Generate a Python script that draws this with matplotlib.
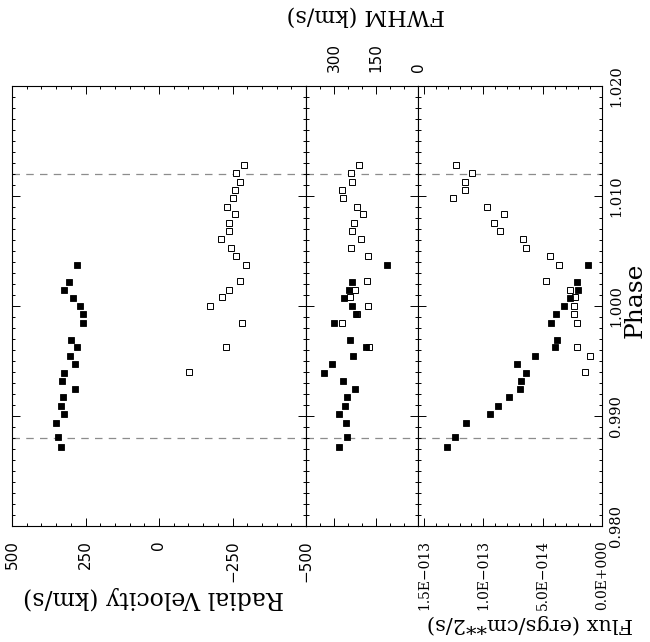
import numpy as np
import matplotlib.pyplot as plt
from matplotlib.ticker import MultipleLocator

plt.rcParams["font.family"] = ["DejaVu Serif"]

nan = np.nan

# filled squares
phase_filled = [1.0037, 1.0022, 1.00145, 1.00075, 0.99997, 0.99923, 0.99843,
                0.99691, 0.99625, 0.99545, 0.99473, 0.99394, 0.99321, 0.99245,
                0.99175, 0.99094, 0.99015, 0.98934, 0.98812, 0.98721]
vel_filled = [280, 306, 322, 291, 269, 260, 260, 298, 278, 303,
              286, 323, 330, 286, 325, 334, 324, 350, 345, 334]
fwhm_filled = [111, 236, 248, 264, 234, 223, 299, 244, 185, 233,
               306, 336, 268, 225, 252, 260, 283, 256, 255, 283]
flux_filled = np.array([1.22, 2.11, 1.98, 2.72, 3.17, 3.89, 4.33, 3.83, 3.96, 5.61,
                        7.17, 6.39, 6.86, 6.94, 7.86, 8.75, 9.44, 11.44, 12.36, 13.03]) * 1e-14

# open squares
phase_open = [1.01282, 1.01205, 1.01130, 1.01055, 1.00986, 1.00903, 1.00835,
              1.00755, 1.00679, 1.00606, 1.00523, 1.00455, 1.00373, 1.00223,
              1.00141, 1.00079, 0.99997, 0.99925, 0.99845, 0.99627, 0.99545,
              0.99398]
vel_open = [-290, -262, -276, -258, -252, -230, -260, -239, -237, -212, -246,
            -261, -297, -276, -239, -215, -175, nan, -283, -229, nan, -103]
fwhm_open = [212, 240, 237, 271, 267, 219, 195, 230, 235, 205, 239,
             178, nan, 182, 225, 243, 180, 218, 273, 175, nan, nan]
flux_open = np.array([12.31, 10.94, 11.56, 11.58, 12.53, 9.69, 8.22, 9.06, 8.56,
                      6.69, 6.39, 4.40, 3.65, 4.73, 2.71, 2.25, 2.38, 2.33, 2.11,
                      2.11, 1.00, 1.42]) * 1e-14

contact_phases = [0.988, 1.012]

phase_ticks = [0.98, 0.99, 1.00, 1.01, 1.02]
phase_tick_labels = ["0.980", "0.990", "1.000", "1.010", "1.020"]
vel_ticks = [500, 250, 0, -250, -500]
vel_tick_labels = ["500", "250", "0", "\u2212250", "\u2212500"]
fwhm_ticks = [300, 150, 0]
fwhm_tick_labels = ["300", "150", "0"]
flux_ticks = [1.5e-13, 1.0e-13, 5.0e-14, 0.0]
flux_tick_labels = ["1.5E\u2212013", "1.0E\u2212013", "5.0E\u2212014", "0.0E+000"]

W, H = 650, 642
fig = plt.figure(figsize=(W / 100, H / 100), dpi=100)

x0, x1, x2, x3 = 12, 306, 418, 602
ytop, ybot = 86, 526
bottom = (H - ybot) / H
height = (ybot - ytop) / H

ax_v = fig.add_axes([x0 / W, bottom, (x1 - x0) / W, height])
ax_w = fig.add_axes([x1 / W, bottom, (x2 - x1) / W, height])
ax_f = fig.add_axes([x2 / W, bottom, (x3 - x2) / W, height])


def style_axis(ax):
    ax.set_ylim(0.98, 1.02)
    ax.yaxis.set_major_locator(MultipleLocator(0.01))
    ax.yaxis.set_minor_locator(MultipleLocator(0.001))
    ax.tick_params(which="both", direction="in", top=True, bottom=True,
                   left=True, right=True, labelbottom=False, labeltop=False,
                   labelleft=False, labelright=False, width=0.7, color="black")
    ax.tick_params(which="major", length=5.5)
    ax.tick_params(which="minor", length=2.5)
    for s in ax.spines.values():
        s.set_linewidth(0.8)
    for p in contact_phases:
        ax.axhline(p, color="0.55", lw=0.9, ls=(0, (6, 5)), zorder=1)


for ax in (ax_v, ax_w, ax_f):
    style_axis(ax)

filled_kw = dict(ls="none", marker="s", ms=5.0, mfc="black", mec="black", mew=0.6, zorder=3)
open_kw = dict(ls="none", marker="s", ms=5.0, mfc="white", mec="black", mew=0.7, zorder=2)

# radial velocity
ax_v.plot(vel_open, phase_open, **open_kw)
ax_v.plot(vel_filled, phase_filled, **filled_kw)
ax_v.set_xlim(500, -500)
ax_v.set_xticks(vel_ticks, labels=vel_tick_labels)
ax_v.xaxis.set_minor_locator(MultipleLocator(50))
ax_v.tick_params(axis="x", which="major", labelbottom=True, labelrotation=90,
                 pad=10, labelsize=11)
for lab in ax_v.get_xticklabels():
    lab.set_fontfamily("DejaVu Sans")

# FWHM
ax_w.plot(fwhm_open, phase_open, **open_kw)
ax_w.plot(fwhm_filled, phase_filled, **filled_kw)
ax_w.set_xlim(400, 0)
ax_w.set_xticks(fwhm_ticks, labels=fwhm_tick_labels)
ax_w.xaxis.set_minor_locator(MultipleLocator(50))
ax_w.tick_params(axis="x", which="major", labeltop=True, labelbottom=False,
                 labelrotation=90, pad=10, labelsize=11)
for lab in ax_w.get_xticklabels():
    lab.set_fontfamily("DejaVu Sans")

# flux
ax_f.plot(flux_open, phase_open, **open_kw)
ax_f.plot(flux_filled, phase_filled, **filled_kw)
ax_f.set_xlim(1.55e-13, 0)
ax_f.set_xticks(flux_ticks, labels=flux_tick_labels)
ax_f.xaxis.set_minor_locator(MultipleLocator(1e-14))
ax_f.tick_params(axis="x", which="major", labelbottom=True, labelrotation=90,
                 pad=10, labelsize=10)
ax_f.set_yticks(phase_ticks, labels=phase_tick_labels)
ax_f.yaxis.set_minor_locator(MultipleLocator(0.001))
ax_f.tick_params(axis="y", which="major", labelright=True, labelrotation=90,
                 pad=5, labelsize=10.5)
for lab in ax_f.get_yticklabels():
    lab.set_va("center")
    lab.set_ha("left")

# axis titles (the plot is printed rotated)
fig.text(153 / W, 1 - 598 / H, "Radial Velocity (km/s)", rotation=180,
         ha="center", va="center", fontsize=17)
fig.text(530 / W, 1 - 624 / H, "Flux (ergs/cm**2/s)", rotation=180,
         ha="center", va="center", fontsize=15)
fig.text(366 / W, 1 - 16 / H, "FWHM (km/s)", rotation=180,
         ha="center", va="center", fontsize=16)
fig.text(624 / W, 1 - 300 / H, "Phase", rotation=90,
         ha="left", va="center", fontsize=18)

fig.savefig("out.png", dpi=100)
